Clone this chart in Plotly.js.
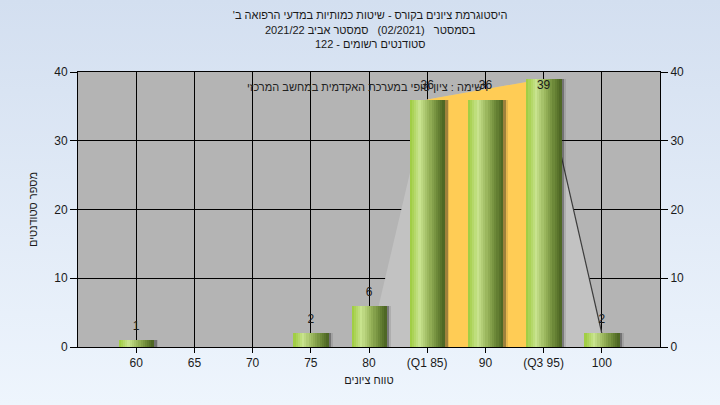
<!DOCTYPE html>
<html>
<head>
<meta charset="utf-8">
<script src="https://cdn.plot.ly/plotly-3.0.1.min.js"></script>
<style>
  html, body { margin: 0; padding: 0; }
  body { width: 720px; height: 405px; background: linear-gradient(to bottom, #d3dff0 0%, #eef5fd 100%); }
  #chart { width: 720px; height: 405px; }
</style>
</head>
<body>
<div id="chart"></div>
<script>
// ---- data ----
const categories = ["60", "65", "70", "75", "80", "(Q1 85)", "90", "(Q3 95)", "100"];
const counts = [1, 0, 0, 2, 6, 36, 36, 39, 2];
const curveX = ["80", "(Q1 85)", "(Q3 95)", "100"];
const curveY = [0, 36, 39, 2];
const iqrX = ["(Q1 85)", "(Q3 95)"];
const iqrY = [36, 39];
const tailX = ["(Q3 95)", "100"];
const tailY = [39, 2];
const titleLines = [
  "היסטוגרמת ציונים בקורס - שיטות כמותיות במדעי הרפואה ב'",
  "בסמסטר\u00A0\u00A0 (02/2021)\u00A0\u00A0 סמסטר אביב 2021/22",
  "סטודנטים רשומים - 122"
];
const subtitle = "רשימה : ציון סופי במערכת האקדמית במחשב המרכזי";
const yTitle = "מספר סטודנטים";
const xTitle = "טווח ציונים";

// ---- helpers ----
const RLM = "\u200F";
const rtl = s => RLM + s + RLM;
const FONT = "Liberation Sans, Arial, sans-serif";
const TXT = "#1a1a1a";

function hex2rgb(h) { return [1,3,5].map(i => parseInt(h.substr(i,2),16)); }
const stops = [[0, "#9ccb3c"], [0.28, "#c8e38e"], [0.55, "#98b45a"], [0.8, "#6a8636"], [1, "#4a6222"]];
function gradColor(t) {
  for (let i = 0; i < stops.length - 1; i++) {
    const [p0, c0] = stops[i], [p1, c1] = stops[i+1];
    if (t <= p1) {
      const f = (t - p0) / (p1 - p0), a = hex2rgb(c0), b = hex2rgb(c1);
      return "rgb(" + a.map((v, k) => Math.round(v + (b[k]-v)*f)).join(",") + ")";
    }
  }
  return stops[stops.length-1][1];
}

const traces = [];
// background curve area (main subplot, under bars)
traces.push({type: "scatter", x: curveX, y: curveY, mode: "lines", fill: "tozeroy",
  fillcolor: "#c2c2c2", line: {width: 0, color: "#c2c2c2"}, hoverinfo: "skip", showlegend: false});
traces.push({type: "scatter", x: iqrX, y: iqrY, mode: "lines", fill: "tozeroy",
  fillcolor: "#ffcc55", line: {width: 0, color: "#ffcc55"}, hoverinfo: "skip", showlegend: false});
traces.push({type: "scatter", x: tailX, y: tailY, mode: "lines",
  line: {width: 1.2, color: "#3c3c3c"}, hoverinfo: "skip", showlegend: false});

// bars on overlay subplot
const BW = 0.6;
[[0.08, "rgba(30,30,30,0.12)"], [0.05, "rgba(30,30,30,0.35)"]].forEach(([sh, col]) => {
  traces.push({type: "bar", x: categories, y: counts, xaxis: "x2", yaxis: "y2",
    width: BW, offset: -BW/2 + sh, marker: {color: col, line: {width: 0}},
    hoverinfo: "skip", showlegend: false});
});
const N = 16, sw = BW / N;
for (let i = 0; i < N; i++) {
  traces.push({type: "bar", x: categories, y: counts, xaxis: "x2", yaxis: "y2",
    width: sw * 1.25, offset: -BW/2 + i * sw,
    marker: {color: gradColor((i + 0.5) / N), line: {width: 0}},
    hoverinfo: "skip", showlegend: false});
}
// value labels
const labelCap = 36;
const lx = [], ly = [], lt = [];
counts.forEach((v, i) => { if (v > 0) { lx.push(categories[i]); ly.push(Math.min(v, labelCap)); lt.push(String(v)); } });
traces.push({type: "scatter", x: lx, y: ly, text: lt, mode: "markers+text", textposition: "top center",
  marker: {size: 10, color: "rgba(0,0,0,0)"},
  xaxis: "x2", yaxis: "y2", textfont: {family: FONT, size: 12, color: TXT},
  cliponaxis: false, hoverinfo: "skip", showlegend: false});

const axisCommon = {
  linecolor: "#000", linewidth: 1, gridcolor: "#000", gridwidth: 1,
  tickcolor: "#000", tickfont: {family: FONT, size: 12, color: TXT}, zeroline: false
};

const layout = {
  width: 720, height: 405,
  margin: {l: 78, r: 60, t: 72, b: 58, pad: 0},
  paper_bgcolor: "rgba(0,0,0,0)",
  plot_bgcolor: "#b4b4b4",
  barmode: "overlay",
  bargap: 0,
  showlegend: false,
  font: {family: FONT, size: 12, color: TXT},
  title: {
    text: titleLines.map(rtl).join("<br>"),
    font: {family: FONT, size: 11, color: TXT},
    x: 0.502, xanchor: "center", xref: "paper", y: 0.952, yanchor: "middle", yref: "container"
  },
  xaxis: Object.assign({}, axisCommon, {
    type: "category", categoryorder: "array", categoryarray: categories,
    range: [-1, 9], showgrid: true, showline: true, mirror: true,
    ticks: "outside", ticklen: 5,
    title: {text: rtl(xTitle), font: {family: FONT, size: 11, color: TXT}, standoff: 6}
  }),
  yaxis: Object.assign({}, axisCommon, {
    range: [0, 40], dtick: 10, tick0: 0, showgrid: true, showline: true, mirror: true,
    ticks: "outside", ticklen: 7,
    title: {text: rtl(yTitle), font: {family: FONT, size: 11, color: TXT}, standoff: 14}
  }),
  xaxis2: {type: "category", categoryorder: "array", categoryarray: categories,
    range: [-1, 9], overlaying: "x", visible: false, showgrid: false},
  yaxis2: Object.assign({}, axisCommon, {
    range: [0, 40], dtick: 10, tick0: 0, overlaying: "y", side: "right",
    showgrid: false, showline: true, ticks: "outside", ticklen: 7
  }),
  annotations: [{
    text: rtl(subtitle), xref: "paper", yref: "paper", x: 0.708, y: 0.945,
    xanchor: "right", yanchor: "middle", showarrow: false,
    font: {family: FONT, size: 11, color: "#222"}
  }]
};

Plotly.newPlot("chart", traces, layout, {displayModeBar: false, staticPlot: true});
</script>
</body>
</html>
